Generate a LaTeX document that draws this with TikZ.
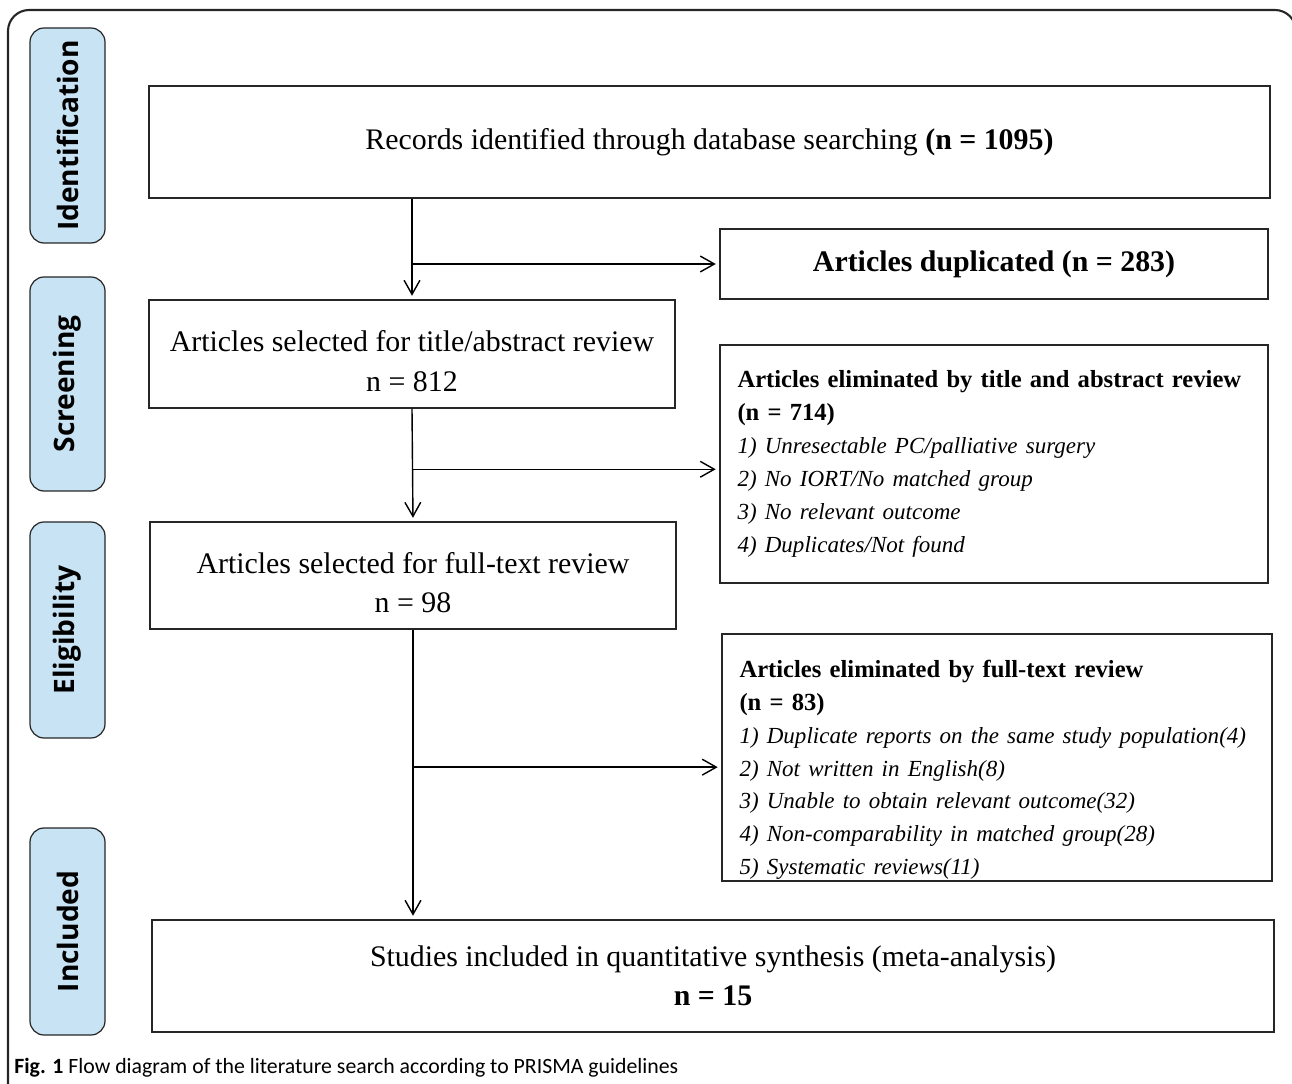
\documentclass[tikz,border=0pt]{standalone}
\usepackage{fontspec}
\setmainfont{Liberation Serif}
\newfontfamily\phasefont{Open Sans}
\newfontfamily\capfont{Carlito}
\usetikzlibrary{arrows.meta}

\definecolor{phaseblue}{RGB}{200,227,243}
\newcommand\elimitem[1]{{\itshape\fontsize{13.1}{18.7}\selectfont #1}}

\begin{document}
\begin{tikzpicture}[x=0.02cm, y=-0.02cm,
    phase/.style={draw=black!85, fill=phaseblue, rounded corners=8pt, line width=0.7pt,
      minimum height=75*0.02cm, rotate=90, font=\phasefont\bfseries\fontsize{16}{18}\selectfont},
    box/.style={draw=black!85, line width=0.8pt, align=center, inner sep=0pt,
      font=\fontsize{17}{22.5}\selectfont},
    elim/.style={box, align=left, inner xsep=10pt, font=\fontsize{14}{18.7}\selectfont},
    arr/.style={-{Straight Barb[length=8pt,width=9pt]}, line width=0.8pt, shorten >=2pt}]
  \useasboundingbox (0,0) rectangle (1292,1084);
  \begin{scope}
    \clip (0,0) rectangle (1292,1084);
    \draw[black!85, line width=1.2pt, rounded corners=12pt] (8,10) rectangle (1296,1110);
  \end{scope}

  % phase labels on the left
  \node[phase, minimum width=215*0.02cm] (pid) at (67.5,135.5) {Identification};
  \node[phase, minimum width=214*0.02cm] (pscr) at (67.5,384) {Screening};
  \node[phase, minimum width=216*0.02cm] (pelig) at (67.5,630) {Eligibility};
  \node[phase, minimum width=207*0.02cm] (pincl) at (67.5,931.5) {Included};

  % main flow
  \node[box, minimum width=1121*0.02cm, minimum height=112*0.02cm] (recs) at (709.5,142)
    {Records identified through database searching \textbf{(n = 1095)}};
  \node[box, minimum width=548*0.02cm, minimum height=70*0.02cm] (dup) at (994,264)
    {\textbf{Articles duplicated (n = 283)}};
  \node[box, minimum width=526*0.02cm, minimum height=108*0.02cm] (title) at (412,354)
    {\rule{0pt}{20pt}Articles selected for title/abstract review\\n = 812};
  \node[elim, text width=513*0.02cm, minimum height=238*0.02cm] (elimA) at (994,464)
    {\textbf{Articles eliminated by title and abstract review}\\
     \textbf{(n = 714)}\\
     \elimitem{1) Unresectable PC/palliative surgery}\\
     \elimitem{2) No IORT/No matched group}\\
     \elimitem{3) No relevant outcome}\\
     \elimitem{4) Duplicates/Not found}};
  \node[box, minimum width=526*0.02cm, minimum height=107*0.02cm] (full) at (413,575.5)
    {\rule{0pt}{20pt}Articles selected for full-text review\\n = 98};
  \node[elim, text width=515*0.02cm, minimum height=247*0.02cm] (elimB) at (997,757.5)
    {\rule{0pt}{24pt}\textbf{Articles eliminated by full-text review}\\
     \textbf{(n = 83)}\\
     \elimitem{1) Duplicate reports on the same study population(4)}\\
     \elimitem{2) Not written in English(8)}\\
     \elimitem{3) Unable to obtain relevant outcome(32)}\\
     \elimitem{4) Non-comparability in matched group(28)}\\
     \elimitem{5) Systematic reviews(11)}};
  \node[box, minimum width=1122*0.02cm, minimum height=112*0.02cm] (incl) at (713,976)
    {Studies included in quantitative synthesis (meta-analysis)\\\textbf{n = 15}};

  % connectors
  \draw[arr] (recs.south -| title.north) -- (title.north);
  \draw[arr] (dup.west -| title.north) -- (dup.west);
  \draw[arr] (title.south) -- (full.north);
  \draw[arr] ([yshift=-3pt]elimA.west -| title.south) -- ([yshift=-3pt]elimA.west);
  \draw[arr] (full.south) -- (full.south |- incl.north);
  \draw[arr] ([yshift=-5.5pt]elimB.west -| full.south) -- ([yshift=-5.5pt]elimB.west);

  % caption
  \node[anchor=west, inner sep=0pt, font=\capfont\fontsize{12.4}{15}\selectfont] (cap) at (14,1068)
    {\textbf{Fig. 1} Flow diagram of the literature search according to PRISMA guidelines};
\end{tikzpicture}
\end{document}
